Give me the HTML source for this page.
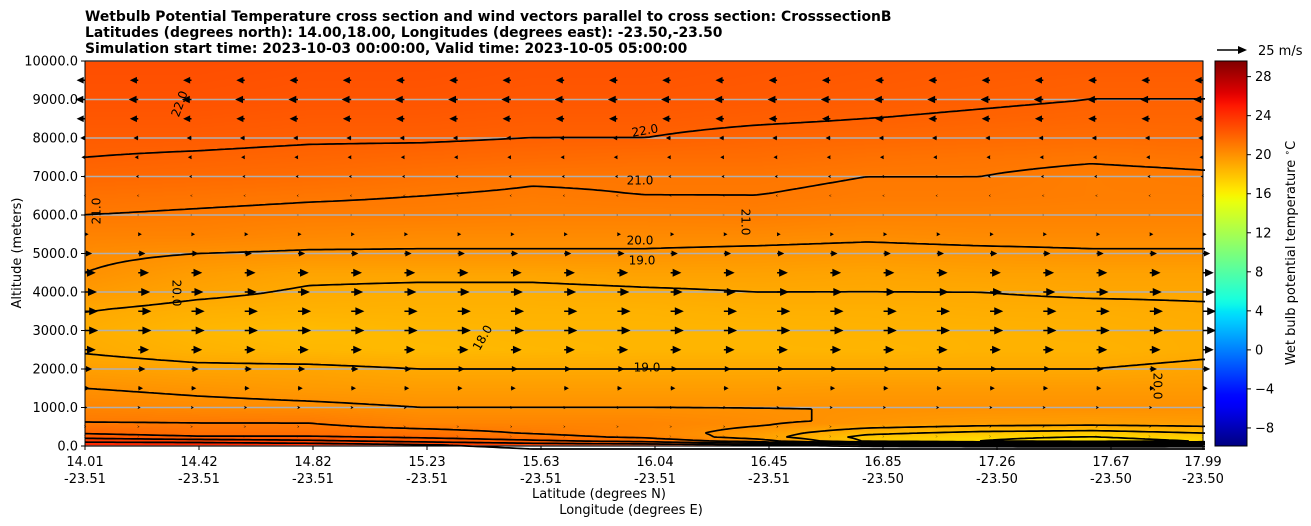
<!DOCTYPE html>
<html><head><meta charset="utf-8">
<style>
body{margin:0;background:#fff;width:1311px;height:526px;overflow:hidden;font-family:"Liberation Sans","DejaVu Sans",sans-serif;}
#wrap{position:relative;width:1311px;height:526px;}
svg text{font-family:"DejaVu Sans","Liberation Sans",sans-serif;}
</style></head>
<body>
<div id="wrap">
<canvas id="heat" width="1118" height="385" style="position:absolute;left:85px;top:61px;"></canvas>
<svg id="svg" width="1311" height="526" style="position:absolute;left:0;top:0;"></svg>
</div>
<script>
// ---- data ----
const altitudes=[0,100,200,300,600,1000,1500,2000,2500,3000,3500,4000,4500,5000,5500,6000,6500,7000,7500,8000,8500,9000,9500,10000];
const lats=[14.01,14.42,14.82,15.23,15.63,16.04,16.45,16.85,17.26,17.67,17.99];
const lons=[-23.51,-23.51,-23.51,-23.51,-23.51,-23.51,-23.51,-23.50,-23.50,-23.50,-23.50];
const thetaW=[
[25,25,25,24.5,24,24,24,24,24,24,24],
[24,24,23.5,23,22.5,22,21,18,17,16.5,17],
[23,22.5,22.5,22,21.5,21,19.5,17.5,17,16.8,17.2],
[22,21.5,21.5,21.5,21,20.5,19.5,18,17.5,17.3,17.8],
[21,21,21,20.5,20.5,20.5,20.2,19.8,19.5,19.4,19.5],
[20.5,20.3,20.2,20,20,20,20,20,20,20,20],
[20,19.8,19.6,19.5,19.5,19.5,19.5,19.6,19.6,19.6,19.6],
[19.4,19.2,19.2,19,19,19,19,19,19,19,19.2],
[18.9,18.6,18.4,18.3,18.4,18.5,18.5,18.5,18.6,18.6,18.8],
[18.8,18.4,18.2,18.4,18.5,18.5,18.5,18.6,18.6,18.7,18.8],
[19,18.7,18.6,18.6,18.6,18.6,18.7,18.7,18.8,18.8,18.9],
[19.6,19.2,18.9,18.8,18.8,18.9,19,19,19,19.1,19.1],
[20,19.5,19.2,19.2,19.2,19.3,19.3,19.2,19.3,19.3,19.3],
[20.2,20,19.9,19.9,19.9,19.9,19.8,19.7,19.8,19.9,19.9],
[20.6,20.6,20.4,20.3,20.3,20.3,20.3,20.2,20.3,20.3,20.3],
[21,20.9,20.8,20.8,20.7,20.7,20.8,20.6,20.6,20.6,20.6],
[21.3,21.2,21.1,21,20.9,21,21,20.9,20.9,20.8,20.8],
[21.7,21.6,21.5,21.3,21.1,21.1,21.1,21,21,20.8,20.9],
[22,21.9,21.8,21.7,21.6,21.5,21.5,21.3,21.2,21.1,21.2],
[22.2,22.2,22.1,22.1,22,22,21.8,21.7,21.6,21.5,21.6],
[22.4,22.4,22.3,22.3,22.2,22.2,22.1,22,21.9,21.8,21.8],
[22.6,22.6,22.5,22.5,22.4,22.4,22.3,22.2,22.1,22,22],
[22.7,22.7,22.6,22.6,22.5,22.5,22.4,22.3,22.2,22.1,22.1],
[22.8,22.8,22.7,22.7,22.6,22.6,22.5,22.4,22.3,22.3,22.3]];
const windAlts=[250,500,1000,1500,2000,2500,3000,3500,4000,4500,5000,5500,6000,6500,7000,7500,8000,8500,9000,9500];
const windU=[0.5,1,2,4,6,9,11,11,10,9,6,3,0.5,-1,-2,-3,-4,-7,-8,-7];
const contourLevels=[16,17,18,19,20,21,22,23,24];
const yTicks=[0,1000,2000,3000,4000,5000,6000,7000,8000,9000,10000];
const cbTicks=[-8,-4,0,4,8,12,16,20,24,28];
// ---- layout ----
const X0=85,X1=1203,Y0=61,Y1=446,VMIN=-9.85,VMAX=29.6;
const ns='http://www.w3.org/2000/svg';
const svg=document.getElementById('svg');
function yScale(a){return Y1-(Y1-Y0)*a/10000;}
function interp(segs,t){for(let k=0;k<segs.length-1;k++){if(t<=segs[k+1][0]){const f=(t-segs[k][0])/(segs[k+1][0]-segs[k][0]);return segs[k][1]+f*(segs[k+1][1]-segs[k][1]);}}return segs[segs.length-1][1];}
const RS=[[0,0],[0.35,0],[0.66,1],[0.89,1],[1,0.5]],GS=[[0,0],[0.125,0],[0.375,1],[0.64,1],[0.91,0],[1,0]],BS=[[0,0.5],[0.11,1],[0.34,1],[0.65,0],[1,0]];
function jet(v){let t=(v-VMIN)/(VMAX-VMIN);t=Math.max(0,Math.min(1,t));
 return [Math.round(255*interp(RS,t)),Math.round(255*interp(GS,t)),Math.round(255*interp(BS,t))];}
function el(tag,attrs,parent){const e=document.createElementNS(ns,tag);for(const k in attrs)e.setAttribute(k,attrs[k]);(parent||svg).appendChild(e);return e;}
function sample(px,py){
 const fi=px/(X1-X0)*(lats.length-1);
 const alt=(1-py/(Y1-Y0))*10000;
 let j=0;while(j<altitudes.length-2&&altitudes[j+1]<alt)j++;
 let ty=(alt-altitudes[j])/(altitudes[j+1]-altitudes[j]);ty=Math.max(0,Math.min(1,ty));
 let i=Math.min(lats.length-2,Math.max(0,Math.floor(fi)));let tx=Math.max(0,Math.min(1,fi-i));
 const a=thetaW[j][i],b=thetaW[j][i+1],c=thetaW[j+1][i],d=thetaW[j+1][i+1];
 return (a*(1-tx)+b*tx)*(1-ty)+(c*(1-tx)+d*tx)*ty;}
const cv=document.getElementById('heat'),ctx=cv.getContext('2d');
const W=cv.width,H=cv.height,img=ctx.createImageData(W,H);
for(let y=0;y<H;y++)for(let x=0;x<W;x++){const col=jet(sample(x,y));const k=(y*W+x)*4;img.data[k]=col[0];img.data[k+1]=col[1];img.data[k+2]=col[2];img.data[k+3]=255;}
ctx.putImageData(img,0,0);
yTicks.forEach(t=>{const g=el('line',{x1:X0,x2:X1,y1:yScale(t),y2:yScale(t),stroke:'#b0b0b0','stroke-width':1.5});
 });
const cg=el('g',{});
const S=4,nx=Math.ceil(W/S),ny=Math.ceil(H/S),F=[];
for(let j=0;j<=ny;j++){F.push([]);for(let i=0;i<=nx;i++)F[j].push(sample(Math.min(i*S,W),Math.min(j*S,H)));}
contourLevels.forEach(L=>{let d='';
 for(let j=0;j<ny;j++)for(let i=0;i<nx;i++){
  const v=[F[j][i],F[j][i+1],F[j+1][i+1],F[j+1][i]];
  const p=[[i,j],[i+1,j],[i+1,j+1],[i,j+1]];const pts=[];
  for(let e=0;e<4;e++){const a=v[e],b=v[(e+1)%4];if((a<L)!==(b<L)){const t=(L-a)/(b-a);
   pts.push([X0+S*(p[e][0]+t*(p[(e+1)%4][0]-p[e][0])),Y0+S*(p[e][1]+t*(p[(e+1)%4][1]-p[e][1]))]);}}
  for(let k=0;k+1<pts.length;k+=2)d+='M'+pts[k][0].toFixed(1)+' '+pts[k][1].toFixed(1)+'L'+pts[k+1][0].toFixed(1)+' '+pts[k+1][1].toFixed(1);}
 const pth=el('path',{d:d,stroke:'#000','stroke-width':1.7,fill:'none'},cg);
 });
[['22.0',645,131,-10],['21.0',640,181,0],['20.0',640,241,0],['19.0',642,261,0],['19.0',647,368,0],['18.0',483,338,-60],['22.0',180,104,-70],['21.0',97,211,-90],['20.0',176,293,90],['21.0',745,222,90],['20.0',1157,386,90]].forEach(a=>{
 const t=el('text',{x:a[1],y:a[2],'font-size':12,'text-anchor':'middle','dominant-baseline':'middle',transform:`rotate(${a[3]} ${a[1]} ${a[2]})`});t.textContent=a[0];
 });
const wg=el('g',{});
const PXPERMS=30/25,NCOL=22;
windAlts.forEach((a,r)=>{const u=windU[r];const y=yScale(a);
 for(let c=0;c<NCOL;c++){const x=X0+(X1-X0)*c/(NCOL-1);const L=u*PXPERMS;const s=Math.sign(L)||1;const al=Math.abs(L);
  const hl=Math.min(9,al*0.7+1.2),hw=Math.min(4,al*0.3+0.9);
  const tip=x+L;const base=tip-s*hl;
  let d=`M${x} ${y-0.7}L${base} ${y-0.7}L${base} ${y-hw}L${tip} ${y}L${base} ${y+hw}L${base} ${y+0.7}L${x} ${y+0.7}Z`;
  const p=el('path',{d:d,fill:'#000'},wg);}});
el('rect',{x:X0,y:Y0,width:X1-X0,height:Y1-Y0,fill:'none',stroke:'#000','stroke-width':1});
yTicks.forEach(t=>{const y=yScale(t);el('line',{x1:X0-4,x2:X0,y1:y,y2:y,stroke:'#000'});
 const tx=el('text',{x:X0-7,y:y+4.5,'font-size':13,'text-anchor':'end'});tx.textContent=t.toFixed(1);
 });
lats.forEach((la,i)=>{const x=i<lats.length-1?X0+114*i:X1;el('line',{x1:x,x2:x,y1:Y1,y2:Y1+4,stroke:'#000'});
 const t1=el('text',{x:x,y:466,'font-size':13,'text-anchor':'middle'});t1.textContent=la.toFixed(2);
 
 const t2=el('text',{x:x,y:483,'font-size':13,'text-anchor':'middle'});t2.textContent=lons[i].toFixed(2);
 });
const CX=1215,CW=32;
const gradDef=el('defs',{});const lg=el('linearGradient',{id:'cbg',x1:0,y1:1,x2:0,y2:0},gradDef);
for(let k=0;k<=60;k++){const v=VMIN+(VMAX-VMIN)*k/60;const c=jet(v);el('stop',{offset:k/60,'stop-color':`rgb(${c})`},lg);}
const cb=el('rect',{x:CX,y:Y0,width:CW,height:Y1-Y0,fill:'url(#cbg)',stroke:'#000','stroke-width':1});

cbTicks.forEach(v=>{const y=Y1-(v-VMIN)/(VMAX-VMIN)*(Y1-Y0);el('line',{x1:CX+CW,x2:CX+CW+4,y1:y,y2:y,stroke:'#000'});
 const t=el('text',{x:CX+CW+8,y:y+4.5,'font-size':13});t.textContent=v<0?'\u2212'+Math.abs(v):v;
 });
</script>
<svg width="1311" height="526" style="position:absolute;left:0;top:0;pointer-events:none">
<g font-family="DejaVu Sans, Liberation Sans, sans-serif" font-weight="bold" font-size="13.9">
<text x="85" y="21">Wetbulb Potential Temperature cross section and wind vectors parallel to cross section: CrosssectionB</text>
<text x="85" y="37">Latitudes (degrees north): 14.00,18.00, Longitudes (degrees east): -23.50,-23.50</text>
<text x="85" y="53">Simulation start time: 2023-10-03 00:00:00, Valid time: 2023-10-05 05:00:00</text>
</g>
<text x="21" y="253" font-size="13" text-anchor="middle" transform="rotate(-90 21 253)" font-family="DejaVu Sans, sans-serif">Altitude (meters)</text>
<text x="599" y="498" font-size="13" text-anchor="middle" font-family="DejaVu Sans, sans-serif">Latitude (degrees N)</text>
<text x="631" y="514" font-size="13" text-anchor="middle" font-family="DejaVu Sans, sans-serif">Longitude (degrees E)</text>
<text x="1295" y="253" font-size="13" text-anchor="middle" transform="rotate(-90 1295 253)" font-family="DejaVu Sans, sans-serif">Wet bulb potential temperature <tspan dy="-5" font-size="9">∘</tspan><tspan dy="5">C</tspan></text>
<g>
<path d="M1217 49.3L1238 49.3L1238 46L1247 50L1238 54L1238 50.7L1217 50.7Z" fill="#000"/>
<text x="1258" y="55" font-size="13" font-family="DejaVu Sans, sans-serif">25 m/s</text>
</g>
</svg>
</body></html>
